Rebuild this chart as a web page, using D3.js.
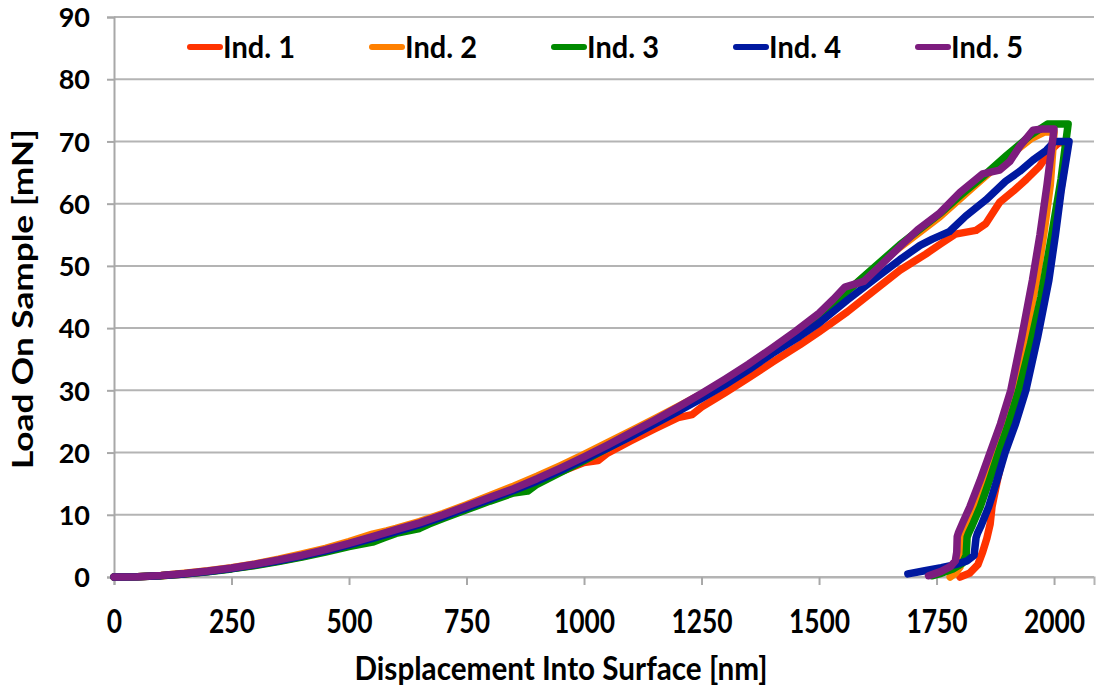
<!DOCTYPE html>
<html>
<head>
<meta charset="utf-8">
<script src="https://cdn.jsdelivr.net/npm/d3@7"></script>
<style>
  body { margin: 0; background: #fff; }
  svg { display: block; font-family: Lato, "Open Sans", sans-serif; }
</style>
</head>
<body>
<svg></svg>
<script>
// series names + colours
let names = ["Ind. 1", "Ind. 2", "Ind. 3", "Ind. 4", "Ind. 5"]
let colors = ["#ff3300", "#ff8000", "#008a00", "#0019a0", "#7d1c7e"]

// [displacement nm, load mN], loading then unloading
let ind1 = [[0,0],[50,0.04],[100,0.2],[150,0.5],[200,0.88],[250,1.35],[300,1.9],[350,2.55],[400,3.3],[450,4.15],[500,5.1],[550,6.1],[600,7.2],[650,8.3],[700,9.6],[750,11.0],[800,12.3],[850,13.7],[900,15.2],[950,16.9],[1000,18.4],[1030,18.7],[1050,19.9],[1100,21.9],[1150,23.8],[1200,25.6],[1230,26.1],[1250,27.3],[1300,29.6],[1350,32.0],[1400,34.5],[1459,37.3],[1500,39.4],[1560,42.6],[1620,46.2],[1672,49.3],[1727,51.9],[1760,53.6],[1790,55.1],[1834,55.7],[1855,56.8],[1884,60.2],[1913,62.0],[1941,63.9],[1969,66.0],[1993,68.6],[2010,69.8],[2028,69.8],
  [2024,67],[2010,60],[1997,53],[1984,47],[1961,38.5],[1938,30],[1914,24.6],[1893,20],[1879,15.4],[1868,11.3],[1864,8.5],[1857,6.2],[1848,4],[1838,2],[1820,0.6],[1800,0]]
let ind2 = [[0,0],[50,0.05],[100,0.25],[150,0.6],[200,1.0],[250,1.5],[300,2.1],[350,2.85],[400,3.7],[450,4.6],[500,5.7],[550,6.9],[580,7.4],[600,7.8],[650,8.9],[700,10.2],[750,11.6],[800,13.1],[850,14.6],[900,16.2],[950,17.9],[1000,19.7],[1050,21.6],[1100,23.5],[1150,25.4],[1200,27.4],[1250,29.4],[1300,31.6],[1350,34.0],[1400,36.5],[1450,39.2],[1500,42.1],[1555,45.6],[1600,48.5],[1672,53.0],[1757,57.9],[1800,60.8],[1848,64.0],[1900,67.4],[1950,70.4],[1979,71.5],[2000,71.5],
  [1992,63],[1978,55],[1963,47.7],[1939,38.5],[1914,30],[1893,24.6],[1873,20],[1851,15.4],[1830,11.3],[1815,8.3],[1808,6.5],[1803,3.5],[1800,1.6],[1790,0.6],[1779,0]]
let ind3 = [[0,0],[50,0.03],[100,0.2],[150,0.5],[200,0.85],[250,1.3],[300,1.85],[350,2.5],[400,3.2],[450,4.0],[500,4.9],[550,5.6],[575,6.3],[600,7.0],[650,7.8],[670,8.5],[700,9.4],[750,10.8],[800,12.2],[850,13.5],[880,13.8],[900,14.9],[950,16.8],[1000,18.7],[1050,20.7],[1100,22.7],[1150,24.8],[1200,26.9],[1250,29.1],[1300,31.4],[1350,33.9],[1400,36.5],[1450,39.1],[1500,41.9],[1555,45.6],[1600,48.6],[1672,53.4],[1757,58.4],[1800,61.3],[1848,64.3],[1900,67.8],[1950,71.0],[1986,72.8],[2030,72.8],
  [2015,64],[1995,55],[1972,45],[1950,37.5],[1925,30],[1903,24.6],[1882,20],[1862,15.4],[1843,11.3],[1826,8.3],[1818,7.0],[1815,6.4],[1813,3.5],[1805,2.2],[1785,1.3],[1760,0.6],[1740,0.2]]
let ind4 = [[0,0],[50,0.04],[100,0.22],[150,0.5],[200,0.9],[250,1.35],[300,1.95],[350,2.6],[400,3.35],[450,4.2],[500,5.15],[550,6.2],[600,7.3],[650,8.4],[700,9.7],[750,11.1],[800,12.5],[850,13.9],[900,15.4],[950,17.1],[1000,18.9],[1050,20.7],[1100,22.6],[1150,24.6],[1200,26.6],[1250,28.7],[1300,30.9],[1350,33.3],[1400,35.9],[1459,38.7],[1500,40.8],[1560,44.5],[1620,48],[1672,51],[1715,53.3],[1741,54.3],[1777,55.5],[1812,58],[1855,60.6],[1897,63.6],[1927,65.2],[1955,67],[1984,68.6],[2001,70],[2032,70],
  [2015,62],[2003,55],[1989,47.7],[1965,38.5],[1940,30],[1918,24.6],[1896,20],[1878,15.4],[1861,11.3],[1845,8.3],[1837,7],[1834,6.3],[1830,3.5],[1815,2.6],[1790,2.0],[1760,1.5],[1725,1.0],[1689,0.5]]
let ind5 = [[0,0],[50,0.05],[100,0.25],[150,0.55],[200,0.95],[250,1.45],[300,2.05],[350,2.75],[400,3.5],[450,4.4],[500,5.4],[550,6.5],[600,7.6],[650,8.7],[700,10.0],[750,11.4],[800,12.8],[850,14.2],[900,15.8],[950,17.5],[1000,19.3],[1050,21.2],[1100,23.2],[1150,25.2],[1200,27.3],[1250,29.5],[1300,31.8],[1350,34.2],[1400,36.8],[1450,39.5],[1500,42.4],[1530,44.6],[1555,46.6],[1595,47.5],[1630,50.0],[1672,53.1],[1710,55.8],[1757,58.5],[1800,61.8],[1848,64.8],[1884,65.4],[1906,66.8],[1927,69.2],[1955,71.8],[1975,72],[2000,72],
  [1985,63],[1970,55],[1954,47.7],[1931,38.5],[1908,30],[1886,24.6],[1864,20],[1842,15.4],[1821,11.3],[1805,8.6],[1797,7.2],[1794,6.5],[1793,4],[1790,2.6],[1780,1.7],[1760,0.9],[1745,0.5],[1733,0.2]]

let series = [ind1, ind2, ind3, ind4, ind5]

let xTicks = [0, 250, 500, 750, 1000, 1250, 1500, 1750, 2000]
let yTicks = [0, 10, 20, 30, 40, 50, 60, 70, 80, 90]

let width = 1096
let height = 692
let plotLeft = 114
let plotRight = 1094
let plotTop = 17
let plotBottom = 577

let svg = d3.select("svg").attr("width", width).attr("height", height)

let xScale = d3.scaleLinear().domain([0, 2085]).range([plotLeft, plotRight])
let yScale = d3.scaleLinear().domain([0, 90]).range([plotBottom, plotTop])

// horizontal gridlines
svg.append("g")
    .selectAll("line")
    .data(yTicks)
    .enter()
    .append("line")
    .attr("x1", plotLeft)
    .attr("x2", plotRight)
    .attr("y1", (d) => yScale(d))
    .attr("y2", (d) => yScale(d))
    .style("stroke", "#b4b4b4")
    .style("stroke-width", 2)

// y axis
let yAxis = d3.axisLeft(yScale).tickValues(yTicks).tickSize(7).tickPadding(17)
let yg = svg.append("g")
    .attr("transform", "translate(" + plotLeft + ",0)")
    .call(yAxis)
yg.select(".domain").style("stroke", "#a8a8a8").style("stroke-width", 2)
yg.selectAll(".tick line").style("stroke", "#a8a8a8").style("stroke-width", 2)
yg.selectAll("text")
    .attr("dy", "0.36em")
    .style("font-size", "27px")
    .style("font-weight", "bold")
    .style("fill", "#000")
    .style("font-family", "Lato, sans-serif")

// x axis
let xAxis = d3.axisBottom(xScale).tickValues(xTicks).tickSize(8).tickFormat(d3.format("d"))
let xg = svg.append("g")
    .attr("transform", "translate(0," + plotBottom + ")")
    .call(xAxis)
xg.select(".domain").style("stroke", "#b4b4b4").style("stroke-width", 2)
xg.selectAll(".tick line").style("stroke", "#a8a8a8").style("stroke-width", 2)
xg.selectAll("text")
    .attr("y", 56)
    .attr("dy", 0)
    .attr("transform", "scale(0.8,1)")
    .style("font-size", "33px")
    .style("font-weight", "bold")
    .style("fill", "#000")
    .style("font-family", "Lato, sans-serif")

// curves
let line = d3.line()
    .x((d) => xScale(d[0]))
    .y((d) => yScale(d[1]))

svg.append("g")
    .selectAll("path")
    .data(series)
    .enter()
    .append("path")
    .attr("d", (d) => line(d))
    .style("fill", "none")
    .style("stroke", (d, i) => colors[i])
    .style("stroke-width", 7.5)
    .style("stroke-linejoin", "round")
    .style("stroke-linecap", "round")

// legend
let legend = svg.append("g")
let legendX = [187, 369, 551, 733, 915]
names.forEach((name, i) => {
    legend.append("line")
        .attr("x1", legendX[i] + 3)
        .attr("x2", legendX[i] + 33)
        .attr("y1", 47)
        .attr("y2", 47)
        .style("stroke", colors[i])
        .style("stroke-width", 6)
        .style("stroke-linecap", "round")
    legend.append("text")
        .text(name)
        .attr("x", legendX[i] + 36)
        .attr("y", 58)
        .attr("textLength", 72)
        .attr("lengthAdjust", "spacingAndGlyphs")
        .style("font-size", "30px")
        .style("font-weight", "bold")
})

// axis titles
svg.append("text")
    .text("Load On Sample [mN]")
    .attr("transform", "translate(33,299) rotate(-90)")
    .attr("text-anchor", "middle")
    .attr("textLength", 340)
    .attr("lengthAdjust", "spacingAndGlyphs")
    .style("font-size", "28px")
    .style("font-weight", "bold")

svg.append("text")
    .text("Displacement Into Surface [nm]")
    .attr("x", 561)
    .attr("y", 680)
    .attr("text-anchor", "middle")
    .attr("textLength", 413)
    .attr("lengthAdjust", "spacingAndGlyphs")
    .style("font-size", "33px")
    .style("font-weight", "bold")
</script>
</body>
</html>
